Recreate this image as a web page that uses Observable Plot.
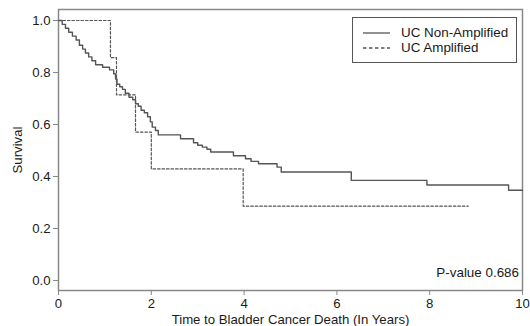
<!DOCTYPE html>
<html>
<head>
<meta charset="utf-8">
<script src="https://cdn.jsdelivr.net/npm/d3@7"></script>
<script src="https://cdn.jsdelivr.net/npm/@observablehq/plot@0.6"></script>
<style>
  html, body { margin: 0; padding: 0; background: #fff; }
  #wrap { position: relative; width: 530px; height: 326px; font-family: "Liberation Sans", Arial, sans-serif; }
  #legend { position: absolute; left: 352px; top: 17px; width: 165px; height: 46px; border: 1px solid #555; background: #fff; box-sizing: border-box; font-size: 13.4px; color: #1a1a1a; }
  .row { position: absolute; left: 10px; display: flex; align-items: center; line-height: 14px; }
  .row svg { margin-right: 11px; }
  #pval { position: absolute; right: 11px; top: 265px; font-size: 13.4px; color: #1a1a1a; }
</style>
</head>
<body>
<div id="wrap">
  <div id="chart"></div>
  <div id="legend"></div>
  <div id="pval"></div>
</div>
<script>
// Series names
const seriesNames = ["UC Non-Amplified", "UC Amplified"];
// UC Non-Amplified Kaplan-Meier steps
const nonAmpTime = [0, 0.08, 0.15, 0.22, 0.3, 0.38, 0.45, 0.52, 0.58, 0.65, 0.72, 0.8, 0.95, 1.1, 1.19, 1.23, 1.26, 1.32, 1.38, 1.44, 1.52, 1.6, 1.66, 1.72, 1.78, 1.85, 1.92, 1.98, 2.02, 2.09, 2.15, 2.63, 2.91, 3.0, 3.1, 3.2, 3.28, 3.77, 4.03, 4.15, 4.31, 4.71, 4.8, 6.31, 7.94, 9.7, 10];
const nonAmpSurv = [1.0, 0.985, 0.97, 0.955, 0.94, 0.925, 0.905, 0.89, 0.875, 0.86, 0.845, 0.83, 0.82, 0.81, 0.795, 0.775, 0.755, 0.745, 0.735, 0.72, 0.705, 0.695, 0.68, 0.67, 0.655, 0.645, 0.63, 0.61, 0.59, 0.577, 0.56, 0.545, 0.53, 0.52, 0.513, 0.505, 0.494, 0.48, 0.468, 0.458, 0.449, 0.436, 0.417, 0.385, 0.367, 0.347, 0.347];
// UC Amplified Kaplan-Meier steps
const ampTime = [0, 1.12, 1.25, 1.66, 2.0, 3.98, 8.83];
const ampSurv = [1.0, 0.857, 0.714, 0.571, 0.429, 0.286, 0.286];
// Ticks and labels
const xTicks = [0, 2, 4, 6, 8, 10];
const yTicks = [0.0, 0.2, 0.4, 0.6, 0.8, 1.0];
const xLabel = "Time to Bladder Cancer Death (In Years)";
const yLabel = "Survival";
const pValueText = "P-value 0.686";

const nonAmp = nonAmpTime.map((t, i) => ({t, s: nonAmpSurv[i]}));
const amp = ampTime.map((t, i) => ({t, s: ampSurv[i]}));

const lineColor = "#555";
const chart = Plot.plot({
  width: 530,
  height: 326,
  marginLeft: 58,
  marginRight: 8,
  marginTop: 9,
  marginBottom: 36,
  style: {fontFamily: "'Liberation Sans', Arial, sans-serif", fontSize: "13.2px", color: "#1a1a1a", background: "#fff"},
  x: {domain: [0, 10]},
  y: {domain: [-0.0385, 1.0423]},
  marks: [
    Plot.frame({stroke: "#888", strokeWidth: 1.5}),
    Plot.axisX({ticks: xTicks, tickSize: 5, tickPadding: 3, stroke: "#888", label: xLabel, labelAnchor: "center", labelOffset: 33, labelArrow: "none", fill: "#1a1a1a"}),
    Plot.axisY({ticks: yTicks, tickSize: 5, tickPadding: 3, stroke: "#888", tickFormat: d3.format(".1f"), label: yLabel, labelAnchor: "center", labelOffset: 46, labelArrow: "none", fill: "#1a1a1a"}),
    Plot.line(nonAmp, {x: "t", y: "s", curve: "step-after", stroke: lineColor, strokeWidth: 1.4}),
    Plot.line(amp, {x: "t", y: "s", curve: "step-after", stroke: lineColor, strokeWidth: 1.2, strokeDasharray: "2.5,2"})
  ]
});
document.getElementById("chart").appendChild(chart);

// Legend
const legend = document.getElementById("legend");
seriesNames.forEach((name, i) => {
  const row = document.createElement("div");
  row.className = "row";
  row.style.top = (8 + i * 15) + "px";
  row.innerHTML = `<svg width="27" height="4"><line x1="0" x2="27" y1="2" y2="2" stroke="${lineColor}" stroke-width="1.3" ${i === 1 ? 'stroke-dasharray="3.5,2.5"' : ''}/></svg><span></span>`;
  row.querySelector("span").textContent = name;
  legend.appendChild(row);
});
document.getElementById("pval").textContent = pValueText;
</script>
</body>
</html>
